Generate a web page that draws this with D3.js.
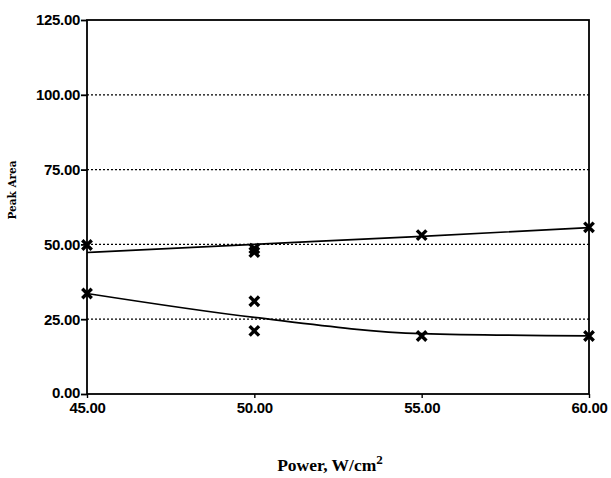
<!DOCTYPE html>
<html>
<head>
<meta charset="utf-8">
<script src="https://cdn.jsdelivr.net/npm/d3@7"></script>
<style>
  html, body { margin: 0; padding: 0; background: #fff; }
  svg { display: block; }
</style>
</head>
<body>
<svg id="chart" width="611" height="478"></svg>
<script>
// Power settings (x) and the tick labels on each axis
const powerTicks = [45, 50, 55, 60];
const areaTicks = [0, 25, 50, 75, 100, 125];

// Measured peak areas, upper group
const upperPower = [45, 50, 50, 55, 60];
const upperArea  = [49.8, 48.6, 47.4, 53.1, 55.7];

// Measured peak areas, lower group
const lowerPower = [45, 50, 50, 55, 60];
const lowerArea  = [33.6, 31.0, 21.1, 19.4, 19.4];

// Fitted curves through each group
const fitPower = [45, 50, 55, 60];
const upperFit = [47.3, 50.0, 52.7, 55.6];
const lowerFit = [33.6, 25.6, 20.2, 19.4];

const svg = d3.select("#chart");
const m = { left: 87, right: 589, top: 20, bottom: 394 };

const x = d3.scaleLinear().domain([45, 60]).range([m.left, m.right]);
const y = d3.scaleLinear().domain([0, 125]).range([m.bottom, m.top]);

// dotted horizontal gridlines
svg.append("g")
  .selectAll("line")
  .data(areaTicks.filter(d => d > 0 && d < 125))
  .join("line")
  .attr("x1", m.left).attr("x2", m.right)
  .attr("y1", d => y(d)).attr("y2", d => y(d))
  .attr("stroke", "#000")
  .attr("stroke-width", 1.2)
  .attr("stroke-dasharray", "2,2");

// frame
svg.append("rect")
  .attr("x", m.left).attr("y", m.top)
  .attr("width", m.right - m.left).attr("height", m.bottom - m.top)
  .attr("fill", "none").attr("stroke", "#000").attr("stroke-width", 1.8);

const tickFont = g => g.selectAll(".tick text")
  .attr("font-family", "Liberation Sans, Arial, sans-serif")
  .attr("font-weight", "bold")
  .attr("font-size", 15)
  .attr("letter-spacing", "-0.3")
  .attr("fill", "#000");

// y axis
const yAxis = d3.axisLeft(y)
  .tickValues(areaTicks)
  .tickFormat(d3.format(".2f"))
  .tickSize(6).tickPadding(1);
const gy = svg.append("g").attr("transform", `translate(${m.left},0)`).call(yAxis);
gy.select(".domain").remove();
gy.selectAll(".tick line").attr("stroke-width", 1.8);
gy.call(tickFont);
// lift the bottom label a little so it clears the x labels
gy.selectAll(".tick text").filter(d => d === 0).attr("dy", "0.2em");

// x axis
const xAxis = d3.axisBottom(x)
  .tickValues(powerTicks)
  .tickFormat(d3.format(".2f"))
  .tickSize(4).tickPadding(4);
const gx = svg.append("g").attr("transform", `translate(0,${m.bottom})`).call(xAxis);
gx.select(".domain").remove();
gx.selectAll(".tick line").attr("stroke-width", 1.4);
gx.call(tickFont);

// fitted curves
const line = d3.line()
  .x(d => x(d[0])).y(d => y(d[1]))
  .curve(d3.curveMonotoneX);
[upperFit, lowerFit].forEach(fit => {
  svg.append("path")
    .datum(fitPower.map((p, i) => [p, fit[i]]))
    .attr("d", line)
    .attr("fill", "none")
    .attr("stroke", "#000")
    .attr("stroke-width", 1.7);
});

// measured points as bold crosses
const cross = d3.symbol().type(d3.symbolX).size(60);
const pts = upperPower.map((p, i) => [p, upperArea[i]])
  .concat(lowerPower.map((p, i) => [p, lowerArea[i]]));
svg.append("g")
  .selectAll("path")
  .data(pts)
  .join("path")
  .attr("d", cross)
  .attr("transform", d => `translate(${x(d[0])},${y(d[1])})`)
  .attr("fill", "none")
  .attr("stroke", "#000")
  .attr("stroke-width", 3.4);

// axis titles
const t = svg.append("text")
  .attr("x", 330).attr("y", 471)
  .attr("text-anchor", "middle")
  .attr("font-family", "Liberation Serif, serif")
  .attr("font-weight", "bold")
  .attr("font-size", 17.5)
  .attr("fill", "#000");
t.append("tspan").text("Power, W/cm");
t.append("tspan").attr("dy", -7).attr("font-size", 13).text("2");

svg.append("text")
  .attr("transform", "translate(16,190) rotate(-90)")
  .attr("text-anchor", "middle")
  .attr("font-family", "DejaVu Serif, Liberation Serif, serif")
  .attr("font-weight", "bold")
  .attr("font-size", 10.5)
  .attr("fill", "#000")
  .text("Peak Area");
</script>
</body>
</html>
